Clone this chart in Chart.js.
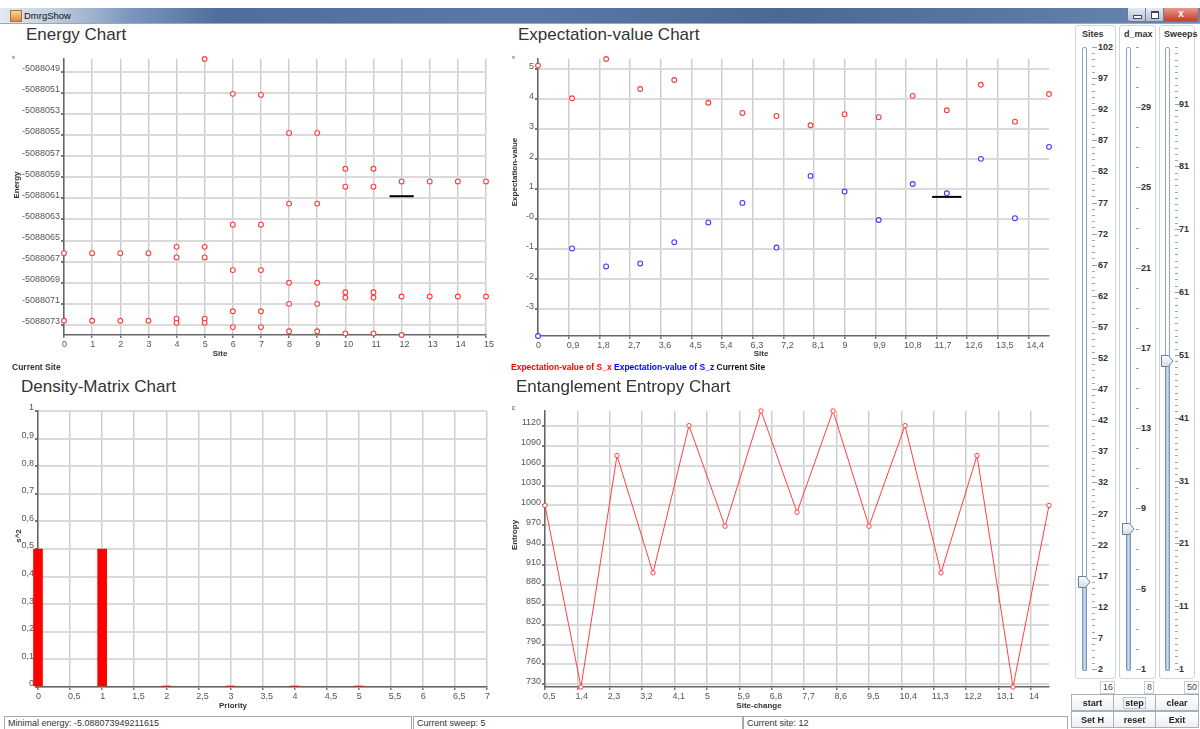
<!DOCTYPE html>
<html>
<head>
<meta charset="utf-8">
<title>DmrgShow</title>
<script src="https://cdn.jsdelivr.net/npm/chart.js@4/dist/chart.umd.min.js"></script>
<style>
  body { margin: 0; width: 1200px; height: 729px; background: #fff; position: relative; overflow: hidden;
         font-family: "Liberation Sans", Arial, sans-serif; color: #333; }
  .abs { position: absolute; white-space: nowrap; }
  canvas { position: absolute; }
  .title { font-size: 17px; line-height: 17px; color: #333; }
  .axt { font-size: 8px; font-weight: bold; color: #333; }
  .ht { transform: translate(-50%, -50%); }
  .vt { transform: translate(-50%, -50%) rotate(-90deg); }
  .unit { font-size: 6px; color: #666; transform: translate(-50%, -50%) rotate(-90deg); }
  .legend { font-size: 8.5px; font-weight: bold; line-height: 10px; }

  #titlebar { position: absolute; left: 0; top: 8px; width: 1200px; height: 15px; border-bottom: 1px solid #9aa8ba;
              background: linear-gradient(to right, #e3e9f1 0px, #c3d0e0 50px, #7b97bd 130px, #4f6e9b 220px,
                          #5a79a6 520px, #4b6995 780px, #5877a3 1000px, #6a88b1 1200px); }
  #titlebar .icon { position: absolute; left: 10px; top: 2px; width: 10px; height: 10px;
                    background: linear-gradient(#f6d89c, #d98a3c); border: 1px solid #b07030; }
  #titlebar .name { position: absolute; left: 24px; top: 1px; font-size: 9.5px; line-height: 13px; color: #111; }
  .wbtn { position: absolute; top: 8px; height: 13px; border: 1px solid #6b7f99; border-top: none;
          background: linear-gradient(#e4ebf3, #b2c1d4); text-align: center; }
  .wbtn.close { background: linear-gradient(#e79a8c, #c63d2c); color: #fff; font-weight: bold; font-size: 10px; line-height: 12px;
                border-radius: 0 0 3px 0; }
  .wbtn.min { border-radius: 0 0 0 3px; }

  .panel { position: absolute; top: 25px; height: 652px; border: 1px solid #cfd5dd; border-radius: 3px; }
  .ptitle { position: absolute; top: 29px; font-size: 9px; font-weight: bold; line-height: 10px; }
  .track { position: absolute; top: 47px; width: 3px; height: 621px; border: 1px solid #8ea3bd; border-radius: 2px; background: #fff; }
  .fill { position: absolute; width: 3px; border: 1px solid #7f98b8; border-top: none; border-radius: 0 0 2px 2px;
          background: linear-gradient(to right, #9db8dc, #cddcf0, #9db8dc); }
  .dash { position: absolute; height: 1px; background: #95a5b8; }
  .slab { position: absolute; font-size: 9px; font-weight: bold; line-height: 10px; color: #333; }
  .vbox { position: absolute; top: 681px; height: 11px; line-height: 11px; font-size: 9px; color: #444; padding: 0 1px 0 2px;
          border: 1px solid #c6cdd7; text-align: right; }
  .btn { position: absolute; height: 17px; line-height: 17px; border: 1px solid #a7b0bb; text-align: center;
         font-size: 9px; font-weight: bold; color: #222; background: linear-gradient(#ffffff, #edf0f4); box-sizing: border-box; }
  .btn span.focus { border: 1px solid #b9c6d8; padding: 0 1px; }
  .status { position: absolute; top: 716px; height: 14px; line-height: 13px; font-size: 9px; color: #333;
            border: 1px solid #a2a9b2; padding-left: 3px; box-sizing: border-box; }
</style>
</head>
<body>

<div id="titlebar">
  <div class="icon"></div>
  <div class="name">DmrgShow</div>
</div>
<div class="wbtn min" style="left:1127px;width:17px"><div style="position:absolute;left:5px;top:7px;width:7px;height:2px;background:#fff;border:1px solid #445"></div></div>
<div class="wbtn" style="left:1145px;width:17px"><div style="position:absolute;left:5px;top:3px;width:6px;height:5px;border:1px solid #445;border-top-width:2px;background:#fff"></div></div>
<div class="wbtn close" style="left:1163px;width:34px">x</div>

<canvas id="energyChart" width="500" height="299" style="left:0;top:50px"></canvas>
<canvas id="expChart" width="580" height="300" style="left:480px;top:50px"></canvas>
<canvas id="densityChart" width="500" height="301" style="left:0;top:400px"></canvas>
<canvas id="entropyChart" width="580" height="301" style="left:480px;top:400px"></canvas>

<div class="abs title" style="left:26px;top:26px">Energy Chart</div>
<div class="abs title" style="left:518px;top:26px">Expectation-value Chart</div>
<div class="abs title" style="left:21px;top:378px">Density-Matrix Chart</div>
<div class="abs title" style="left:516px;top:378px">Entanglement Entropy Chart</div>

<div class="abs unit" style="left:13px;top:57px">e</div>
<div class="abs axt vt" style="left:16px;top:185px">Energy</div>
<div class="abs axt ht" style="left:220px;top:353px">Site</div>
<div class="abs legend" style="left:12px;top:362px">Current Site</div>

<div class="abs unit" style="left:513px;top:57px">e</div>
<div class="abs axt vt" style="left:514px;top:172px">Expectation-value</div>
<div class="abs axt ht" style="left:761px;top:353px">Site</div>
<div class="abs legend" style="left:511px;top:362px"><span style="color:#ff0000">Expectation-value of S_x</span> <span style="color:#0000ff">Expectation-value of S_z</span> <span style="color:#111">Current Site</span></div>

<div class="abs axt vt" style="left:18px;top:536px">s^2</div>
<div class="abs axt ht" style="left:233px;top:705px">Priority</div>

<div class="abs unit" style="left:513px;top:408px">m</div>
<div class="abs axt vt" style="left:514px;top:535px">Entropy</div>
<div class="abs axt ht" style="left:759px;top:705px">Site-change</div>

<div id="sliders"></div>

<div class="btn" style="left:1071px;top:694px;width:43px">start</div>
<div class="btn" style="left:1113px;top:694px;width:43px"><span class="focus">step</span></div>
<div class="btn" style="left:1155px;top:694px;width:44px">clear</div>
<div class="btn" style="left:1071px;top:711px;width:43px">Set H</div>
<div class="btn" style="left:1113px;top:711px;width:43px">reset</div>
<div class="btn" style="left:1155px;top:711px;width:44px">Exit</div>

<div class="status" style="left:4px;width:408px">Minimal energy: -5.088073949211615</div>
<div class="status" style="left:413px;width:330px">Current sweep: 5</div>
<div class="status" style="left:743px;width:325px">Current site: 12</div>

<script>
// ---- Energy chart (energies shown in units of 1e-6) ----
const energySite = [0, 0, 1, 1, 2, 2, 3, 3,
  4, 4, 4, 4,
  5, 5, 5, 5, 5,
  6, 6, 6, 6, 6,
  7, 7, 7, 7, 7,
  8, 8, 8, 8, 8,
  9, 9, 9, 9, 9,
  10, 10, 10, 10, 10,
  11, 11, 11, 11, 11,
  12, 12, 12,
  13, 13, 14, 14, 15, 15];
const energyValue = [-5088066.2, -5088072.6, -5088066.2, -5088072.6, -5088066.2, -5088072.6, -5088066.2, -5088072.6,
  -5088065.6, -5088066.6, -5088072.4, -5088072.8,
  -5088047.8, -5088065.6, -5088066.6, -5088072.4, -5088072.8,
  -5088051.1, -5088063.5, -5088067.8, -5088071.7, -5088073.2,
  -5088051.2, -5088063.5, -5088067.8, -5088071.7, -5088073.2,
  -5088054.8, -5088061.5, -5088069.0, -5088071.0, -5088073.6,
  -5088054.8, -5088061.5, -5088069.0, -5088071.0, -5088073.6,
  -5088058.2, -5088059.9, -5088069.9, -5088070.4, -5088073.8,
  -5088058.2, -5088059.9, -5088069.9, -5088070.4, -5088073.8,
  -5088059.4, -5088070.3, -5088073.95,
  -5088059.4, -5088070.3, -5088059.4, -5088070.3, -5088059.4, -5088070.3];
const energyXTicks = [0, 1, 2, 3, 4, 5, 6, 7, 8, 9, 10, 11, 12, 13, 14, 15];
const energyYTicks = [-5088073, -5088071, -5088069, -5088067, -5088065, -5088063, -5088061,
  -5088059, -5088057, -5088055, -5088053, -5088051, -5088049];
const energyCurrent = { site: 12, value: -5088060.8 };

// ---- Expectation-value chart ----
const expSite = [0, 1, 2, 3, 4, 5, 6, 7, 8, 9, 10, 11, 12, 13, 14, 15];
const expSx = [5.10, 4.01, 5.32, 4.32, 4.62, 3.86, 3.52, 3.42, 3.11, 3.48, 3.38, 4.09, 3.61, 4.46, 3.23, 4.15];
const expSz = [-3.92, -1.00, -1.60, -1.50, -0.79, -0.13, 0.52, -0.97, 1.42, 0.90, -0.05, 1.15, 0.84, 1.99, 0.01, 2.39];
const expXTicks = [0, 0.9, 1.8, 2.7, 3.6, 4.5, 5.4, 6.3, 7.2, 8.1, 9, 9.9, 10.8, 11.7, 12.6, 13.5, 14.4];
const expXLabels = ['0', '0,9', '1,8', '2,7', '3,6', '4,5', '5,4', '6,3', '7,2', '8,1', '9', '9,9', '10,8', '11,7', '12,6', '13,5', '14,4'];
const expYTicks = [-3.02, -2.02, -1.02, -0.02, 0.98, 1.98, 2.98, 3.98, 4.98];
const expYLabels = ['-3', '-2', '-1', '-0', '1', '2', '3', '4', '5'];
const expCurrent = { site: 12, value: 0.72 };

// ---- Density-matrix chart ----
const densityPriority = [0, 1, 2, 3, 4, 5];
const densityValue = [0.5, 0.5, 0.003, 0.003, 0.003, 0.003];
const densityXTicks = [0, 0.5, 1, 1.5, 2, 2.5, 3, 3.5, 4, 4.5, 5, 5.5, 6, 6.5, 7];
const densityXLabels = ['0', '0,5', '1', '1,5', '2', '2,5', '3', '3,5', '4', '4,5', '5', '5,5', '6', '6,5', '7'];
const densityYTicks = [0, 0.1, 0.2, 0.3, 0.4, 0.5, 0.6, 0.7, 0.8, 0.9, 1];
const densityYLabels = ['0', '0,1', '0,2', '0,3', '0,4', '0,5', '0,6', '0,7', '0,8', '0,9', '1'];

// ---- Entanglement entropy chart ----
const entropySite = [0.5, 1.5, 2.5, 3.5, 4.5, 5.5, 6.5, 7.5, 8.5, 9.5, 10.5, 11.5, 12.5, 13.5, 14.5];
const entropyValue = [1000, 726, 1075.3, 898.3, 1120.5, 968.7, 1142.6, 989.8, 1142.6, 968.7, 1120.5, 898.3, 1075.3, 726, 1000];
const entropyXTicks = [0.5, 1.4, 2.3, 3.2, 4.1, 5, 5.9, 6.8, 7.7, 8.6, 9.5, 10.4, 11.3, 12.2, 13.1, 14];
const entropyXLabels = ['0,5', '1,4', '2,3', '3,2', '4,1', '5', '5,9', '6,8', '7,7', '8,6', '9,5', '10,4', '11,3', '12,2', '13,1', '14'];
const entropyYTicks = [730, 760, 790, 820, 850, 880, 910, 940, 970, 1000, 1030, 1060, 1090, 1120];

// ---- Sliders on the right ----
const sliderName = ['Sites', 'd_max', 'Sweeps'];
const sliderMin = [2, 1, 1];
const sliderMax = [102, 32, 100];
const sliderMajor = [5, 4, 10];
const sliderValue = [16, 8, 50];

Chart.defaults.font.family = '"Liberation Sans", Arial, sans-serif';
Chart.defaults.animation = false;

const pts = (xs, ys) => xs.map((x, i) => ({ x: x, y: ys[i] }));

// eje lineal con ticks fijos y ancho/alto fijo
function axis(isX, min, max, ticks, size, labels) {
  return {
    type: 'linear', min: min, max: max, offset: false,
    afterBuildTicks: s => { s.ticks = ticks.map(v => ({ value: v })); },
    afterFit: s => { if (isX) s.height = size; else s.width = size; },
    ticks: {
      autoSkip: false, maxRotation: 0, padding: 1, color: '#555',
      font: { size: 9 }, labelOffset: isX ? -2 : -3, align: isX ? 'start' : 'center',
      callback: (v, i) => labels ? labels[i] : String(v)
    },
    grid: { color: isX ? '#cdcdcd' : '#dadada', lineWidth: isX ? 1.5 : 2, tickLength: 3, tickColor: '#777', offset: false },
    border: { color: '#666', width: 1.5 }
  };
}

function baseOptions(pad, scalesX, scalesY) {
  return {
    responsive: false, maintainAspectRatio: false, animation: false,
    layout: { padding: pad },
    plugins: { legend: { display: false }, tooltip: { enabled: false } },
    scales: { x: scalesX, y: scalesY }
  };
}

const ring = (color) => ({
  pointRadius: 2.4, pointBorderWidth: 1.1, pointBorderColor: color,
  pointBackgroundColor: '#fff', borderColor: color, showLine: false, clip: false
});

const marker = (cur) => ({
  type: 'line', data: [{ x: cur.site - 0.43, y: cur.value }, { x: cur.site + 0.43, y: cur.value }],
  borderColor: '#000', borderWidth: 2, pointRadius: 0, showLine: true, clip: false
});

// 1. Energy
new Chart(document.getElementById('energyChart'), {
  type: 'scatter',
  data: { datasets: [
    Object.assign({ data: pts(energySite, energyValue) }, ring('#ff3b3b')),
    marker(energyCurrent)
  ] },
  options: baseOptions({ left: 0, top: 9, right: 14, bottom: 0 },
    axis(true, 0, 15, energyXTicks, 14),
    axis(false, -5088073.95, -5088047.8, energyYTicks, 64))
});

// 2. Expectation values
new Chart(document.getElementById('expChart'), {
  type: 'scatter',
  data: { datasets: [
    Object.assign({ data: pts(expSite, expSx) }, ring('#ff3b3b')),
    Object.assign({ data: pts(expSite, expSz) }, ring('#3b3bff')),
    marker(expCurrent)
  ] },
  options: baseOptions({ left: 0, top: 9, right: 11, bottom: 0 },
    axis(true, 0, 15, expXTicks, 14, expXLabels),
    axis(false, -3.92, 5.32, expYTicks, 58, expYLabels))
});

// 3. Density matrix
new Chart(document.getElementById('densityChart'), {
  type: 'bar',
  data: { datasets: [{
    data: pts(densityPriority, densityValue),
    backgroundColor: '#ff0000', borderWidth: 0, barThickness: 9, clip: false
  }] },
  options: baseOptions({ left: 0, top: 11, right: 13, bottom: 0 },
    axis(true, 0, 7, densityXTicks, 14, densityXLabels),
    axis(false, 0, 1, densityYTicks, 38, densityYLabels))
});

// 4. Entanglement entropy
new Chart(document.getElementById('entropyChart'), {
  type: 'line',
  data: { datasets: [{
    data: pts(entropySite, entropyValue),
    borderColor: '#ff4040', borderWidth: 1, tension: 0, clip: false,
    pointRadius: 2.2, pointBorderWidth: 1, pointBorderColor: '#ff4040', pointBackgroundColor: '#fff'
  }] },
  options: baseOptions({ left: 0, top: 11, right: 11, bottom: 0 },
    axis(true, 0.5, 14.5, entropyXTicks, 14, entropyXLabels),
    axis(false, 726, 1142.6, entropyYTicks, 65))
});

// --- Sliders (Swing style) ---
const sliderLayout = [
  { panel: 1075, pw: 39, title: 1082, track: 1082, dash: 1092, label: 1098, valRight: 1115 },
  { panel: 1119, pw: 35, title: 1124, track: 1126, dash: 1136, label: 1141, valRight: 1154 },
  { panel: 1159, pw: 34, title: 1164, track: 1165, dash: 1175, label: 1179, valRight: 1199 }
];
const trackTop = 47, trackBottom = 669;
const host = document.getElementById('sliders');
let html = '';
sliderName.forEach((name, k) => {
  const L = sliderLayout[k];
  const yOf = v => trackBottom - (v - sliderMin[k]) / (sliderMax[k] - sliderMin[k]) * (trackBottom - trackTop);
  html += `<div class="panel" style="left:${L.panel}px;width:${L.pw}px"></div>`;
  html += `<div class="ptitle" style="left:${L.title}px">${name}</div>`;
  html += `<div class="track" style="left:${L.track}px"></div>`;
  const ty = yOf(sliderValue[k]);
  html += `<div class="fill" style="left:${L.track}px;top:${ty}px;height:${trackBottom + 1 - ty}px"></div>`;
  for (let v = sliderMin[k]; v <= sliderMax[k]; v++) {
    const y = Math.round(yOf(v));
    const major = (v - sliderMin[k]) % sliderMajor[k] === 0;
    html += `<div class="dash" style="left:${L.dash}px;top:${y}px;width:${major ? 5 : 3}px"></div>`;
    if (major) html += `<div class="slab" style="left:${L.label}px;top:${y - 5}px">${v}</div>`;
  }
  html += `<svg style="position:absolute;left:${L.track - 4}px;top:${ty - 6}px" width="13" height="12">
    <defs><linearGradient id="tg${k}" x1="0" y1="0" x2="0" y2="1"><stop offset="0" stop-color="#fdfdfd"/><stop offset="1" stop-color="#d5dbe3"/></linearGradient></defs>
    <polygon points="0.5,0.5 7.5,0.5 12,6 7.5,11.5 0.5,11.5" fill="url(#tg${k})" stroke="#6e7f94" stroke-width="1"/></svg>`;
  html += `<div class="vbox" style="right:${1200 - L.valRight}px">${sliderValue[k]}</div>`;
});
host.innerHTML = html;
</script>
</body>
</html>
